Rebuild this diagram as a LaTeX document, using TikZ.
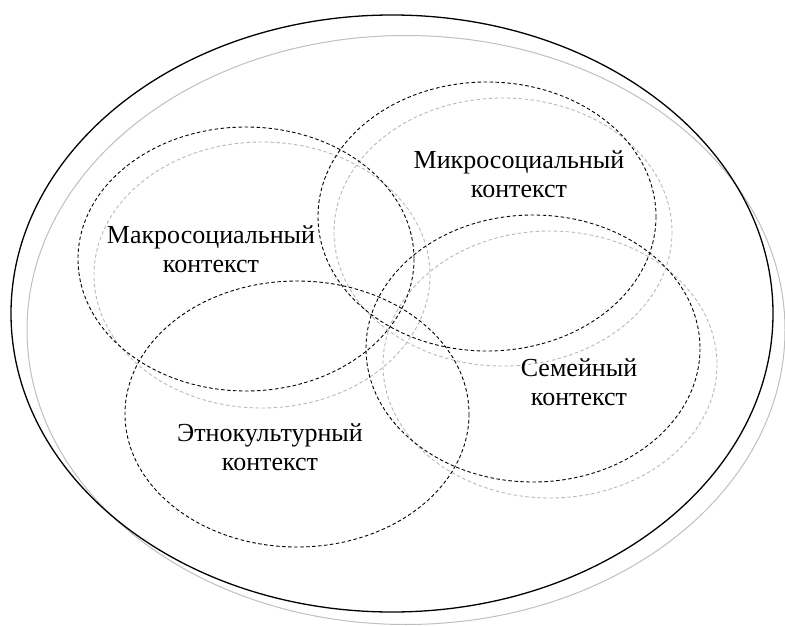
\documentclass[tikz,border=0pt]{standalone}
\usepackage{fontspec}
\setmainfont{Liberation Serif}
\begin{document}
\begin{tikzpicture}[x=1pt,y=-1pt,
  outer/.style={draw=black,line width=1.3pt},
  outershadow/.style={draw=black!25,line width=1pt},
  ctx/.style={draw=black,line width=0.9pt,dash pattern=on 3.5pt off 2.5pt},
  ctxshadow/.style={draw=black!28,line width=0.9pt,dash pattern=on 3.5pt off 2.5pt},
  lbl/.style={align=center,inner sep=0pt,font=\fontsize{26}{29}\selectfont}]
\useasboundingbox (0,0) rectangle (785,626);
\begin{scope}
\clip (0,0) rectangle (785,626);
\draw[outershadow] (406,330) ellipse [x radius=379, y radius=294.5];
\draw[outer] (392,313.5) ellipse [x radius=381, y radius=298.5];
% shadows
\draw[ctxshadow] (262,275) ellipse [x radius=168, y radius=133];
\draw[ctxshadow] (503,232) ellipse [x radius=169, y radius=134];
\draw[ctxshadow] (550,364.5) ellipse [x radius=167, y radius=133.5];
% contexts
\draw[ctx] (246,259) ellipse [x radius=168, y radius=132];
\draw[ctx] (487,216.5) ellipse [x radius=169, y radius=134.5];
\draw[ctx] (533,348.5) ellipse [x radius=167, y radius=133.5];
\draw[ctx] (297,414) ellipse [x radius=172, y radius=133];
\end{scope}
\node[lbl] (macro) at (211,249) {Макросоциальный\\контекст};
\node[lbl] (micro) at (519,174) {Микросоциальный\\контекст};
\node[lbl] (family) at (579,382) {Семейный\\контекст};
\node[lbl] (ethno) at (270,447) {Этнокультурный\\контекст};
\end{tikzpicture}
\end{document}
